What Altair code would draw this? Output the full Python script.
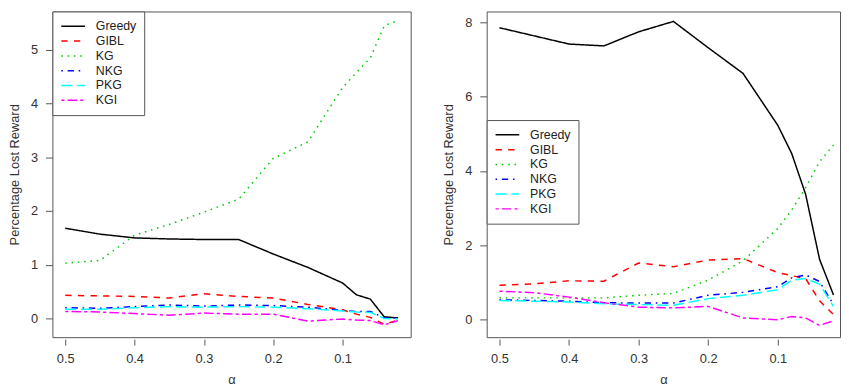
import altair as alt
import pandas as pd

alpha = [0.5, 0.45, 0.4, 0.35, 0.3, 0.25, 0.2, 0.15, 0.1, 0.08, 0.06, 0.04, 0.02]
series = ["Greedy", "GIBL", "KG", "NKG", "PKG", "KGI"]
colors = ["#000000", "#FF0000", "#00CD00", "#0000FF", "#00FFFF", "#FF00FF"]
dashes = [[1, 0], [6.4, 6.4], [1.6, 4.8], [1.6, 4.8, 6.4, 4.8], [11.2, 4.8], [3.2, 3.2, 9.6, 3.2]]
x_ticks = [0.5, 0.4, 0.3, 0.2, 0.1]

# left panel
left_greedy = [1.68, 1.57, 1.50, 1.48, 1.47, 1.47, 1.20, 0.95, 0.66, 0.44, 0.36, 0.03, 0.01]
left_gibl = [0.43, 0.42, 0.41, 0.38, 0.46, 0.41, 0.38, 0.26, 0.16, 0.08, 0.02, -0.11, -0.03]
left_kg = [1.03, 1.08, 1.55, 1.75, 1.98, 2.22, 2.98, 3.29, 4.30, 4.58, 4.85, 5.45, 5.55]
left_nkg = [0.20, 0.19, 0.22, 0.25, 0.23, 0.25, 0.24, 0.21, 0.15, 0.13, 0.13, 0.01, 0.01]
left_pkg = [0.17, 0.17, 0.20, 0.22, 0.21, 0.22, 0.21, 0.18, 0.14, 0.12, 0.11, 0.00, -0.01]
left_kgi = [0.13, 0.12, 0.09, 0.06, 0.10, 0.08, 0.08, -0.05, -0.01, -0.03, -0.04, -0.12, -0.04]
left_y_ticks = [0, 1, 2, 3, 4, 5]

# right panel
right_greedy = [7.86, 7.64, 7.42, 7.37, 7.75, 8.03, 7.32, 6.63, 5.23, 4.47, 3.37, 1.62, 0.66]
right_gibl = [0.92, 0.96, 1.04, 1.03, 1.52, 1.42, 1.60, 1.64, 1.26, 1.18, 1.10, 0.50, 0.13]
right_kg = [0.58, 0.58, 0.58, 0.58, 0.65, 0.70, 1.06, 1.58, 2.45, 2.95, 3.55, 4.25, 4.70]
right_nkg = [0.53, 0.51, 0.49, 0.45, 0.44, 0.44, 0.65, 0.73, 0.88, 1.12, 1.20, 1.02, 0.40]
right_pkg = [0.51, 0.49, 0.47, 0.42, 0.40, 0.38, 0.56, 0.65, 0.80, 1.06, 1.10, 0.95, 0.35]
right_kgi = [0.76, 0.72, 0.60, 0.45, 0.33, 0.31, 0.35, 0.04, -0.01, 0.08, 0.04, -0.16, -0.04]
right_y_ticks = [0, 2, 4, 6, 8]

FONT = "Liberation Sans"


def make_df(vals):
    rows = []
    for s, v in zip(series, vals):
        for a, y in zip(alpha, v):
            rows.append({"alpha": a, "value": y, "method": s})
    return pd.DataFrame(rows)


def legend(ly):
    return alt.Legend(
        title=None,
        orient="none",
        legendX=0,
        legendY=ly,
        symbolType="M-1,0H3",
        symbolSize=144,
        symbolStrokeWidth=1.5,
        labelOffset=22,
        labelFont=FONT,
        labelFontSize=12.5,
        labelColor="#222",
        rowPadding=1,
        padding=8,
        strokeColor="#555",
        fillColor="white",
        cornerRadius=0,
    )


def panel(vals, ydom, yticks, xdom, width, ly):
    df = make_df(vals)
    return alt.Chart(df).mark_line(strokeWidth=1.5).encode(
        x=alt.X("alpha:Q",
                scale=alt.Scale(domain=xdom, reverse=True, nice=False, zero=False),
                axis=alt.Axis(values=x_ticks, format=".1f", title="α", offset=2,
                              tickSize=6, labelPadding=8, titlePadding=8)),
        y=alt.Y("value:Q",
                scale=alt.Scale(domain=ydom, nice=False, zero=False),
                axis=alt.Axis(values=yticks, format="d", title="Percentage Lost Reward",
                              tickSize=7, labelPadding=8, titlePadding=9)),
        color=alt.Color("method:N", scale=alt.Scale(domain=series, range=colors),
                        legend=legend(ly)),
        strokeDash=alt.StrokeDash("method:N", scale=alt.Scale(domain=series, range=dashes),
                                  legend=legend(ly)),
    ).properties(width=width, height=330)


left = panel([left_greedy, left_gibl, left_kg, left_nkg, left_pkg, left_kgi],
             [-0.349, 5.717], left_y_ticks, [0.0018, 0.5185], 363, 0)
right = panel([right_greedy, right_gibl, right_kg, right_nkg, right_pkg, right_kgi],
              [-0.479, 8.298], right_y_ticks, [0.0106, 0.5184], 358, 110)

chart = alt.hconcat(left, right, spacing=31, padding=0).resolve_scale(
    color="independent", strokeDash="independent"
).configure_view(
    stroke="#555", strokeWidth=1
).configure_axis(
    labelFont=FONT, labelFontSize=13, labelColor="#333",
    titleFont=FONT, titleFontSize=13, titleFontWeight="normal", titleColor="#333",
    tickColor="#555", domain=False, grid=False,
)

chart.save("out.html", embed_options={"renderer": "svg", "actions": False})
